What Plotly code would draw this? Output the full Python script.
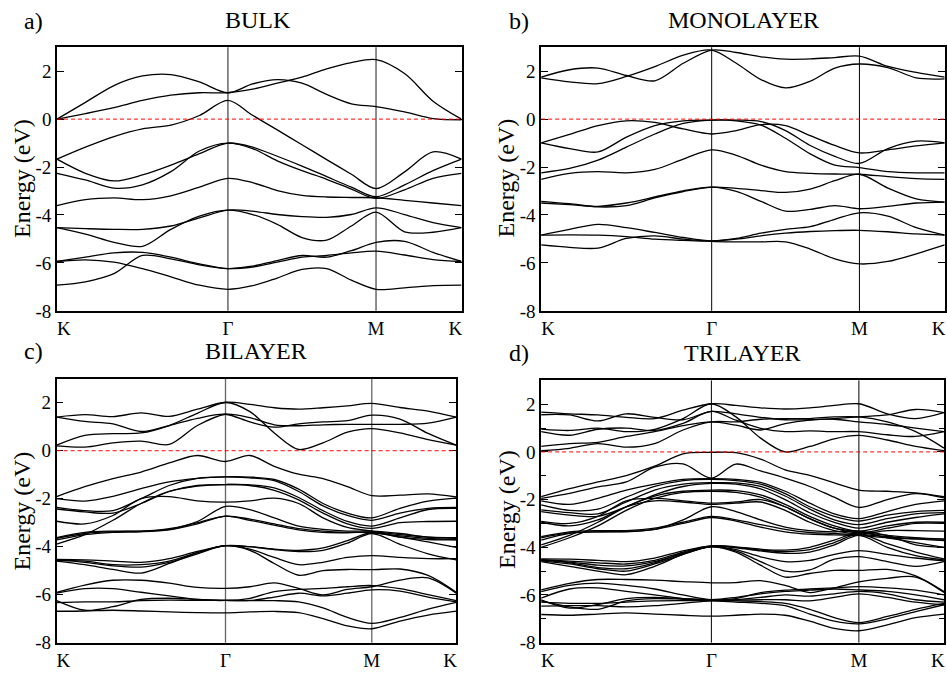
import plotly.graph_objects as go

# ---------------- data ----------------
# k-path coordinate (K -> Gamma -> M -> K), normalised path length
k_path = [0.0, 0.0704, 0.1409, 0.2113, 0.2817, 0.3522, 0.4226, 0.4836, 0.5446,
          0.6057, 0.6667, 0.7277, 0.7887, 0.8592, 0.9296, 1.0]
k_gamma = 0.4226
k_m = 0.7887
xtick_pos = [0.017, 0.4226, 0.7887, 0.985]
xtick_text = ["K", "Γ", "M", "K"]
ytick_vals = [-8, -6, -4, -2, 0, 2]
ytick_text = ["-8", "-6", "-4", "-2", "0", "2"]

# a) BULK
a1 = [0, 0.23, 0.48, 0.78, 1.0, 1.1, 1.1, 1.25, 1.5, 1.75, 2.1, 2.36, 2.48, 1.9, 0.75, 0]
a2 = [0, 0.7, 1.4, 1.8, 1.86, 1.55, 1.1, 1.47, 1.65, 1.5, 1.03, 0.64, 0.52, 0.3, 0.02, -0.03]
a3 = [-1.67, -1.17, -0.73, -0.41, -0.25, 0.15, 0.78, 0.16, -0.45, -1.07, -1.69, -2.3, -2.9, -2.2, -1.37, -1.67]
a4 = [-1.67, -2.26, -2.58, -2.33, -1.92, -1.44, -1.0, -1.17, -1.55, -1.96, -2.4, -2.84, -3.24, -2.74, -2.15, -1.67]
a5 = [-2.26, -2.54, -2.88, -2.74, -2.19, -1.33, -1.0, -1.23, -1.74, -2.15, -2.51, -2.92, -3.31, -2.95, -2.47, -2.26]
a6 = [-3.61, -3.36, -3.29, -3.36, -3.2, -2.84, -2.47, -2.65, -2.98, -3.18, -3.25, -3.27, -3.28, -3.39, -3.5, -3.61]
a7 = [-4.53, -4.57, -4.6, -4.6, -4.46, -4.12, -3.8, -3.84, -3.98, -4.07, -4.1, -3.98, -3.7, -3.98, -4.32, -4.53]
a8 = [-4.53, -4.8, -5.14, -5.31, -4.6, -4.05, -3.8, -3.98, -4.39, -4.94, -5.05, -4.46, -3.88, -4.7, -4.72, -4.53]
a9 = [-5.94, -5.76, -5.58, -5.56, -5.76, -6.04, -6.24, -6.13, -5.9, -5.69, -5.76, -5.49, -5.14, -5.1, -5.56, -5.94]
a10 = [-6.93, -6.79, -6.45, -5.69, -5.83, -6.08, -6.24, -6.17, -5.97, -5.76, -5.69, -5.58, -5.51, -5.67, -5.86, -5.94]
a11 = [-5.94, -5.87, -5.97, -6.24, -6.58, -6.93, -7.1, -6.95, -6.63, -6.27, -6.24, -6.72, -7.1, -7.04, -6.95, -6.93]

# b) MONOLAYER
b1 = [1.75, 2.06, 2.13, 1.82, 1.6, 2.33, 2.88, 2.78, 2.6, 2.5, 2.51, 2.57, 2.63, 2.2, 1.95, 1.75]
b2 = [1.72, 1.55, 1.48, 1.78, 2.19, 2.67, 2.88, 2.33, 1.65, 1.3, 1.58, 2.13, 2.3, 2.15, 1.72, 1.68]
b3 = [-0.99, -0.64, -0.27, -0.07, -0.14, -0.41, -0.62, -0.48, -0.23, -0.27, -0.69, -1.1, -1.41, -1.28, -1.12, -0.99]
b4 = [-0.99, -1.23, -1.37, -0.75, -0.27, -0.07, -0.04, -0.04, -0.1, -0.48, -1.1, -1.55, -1.85, -1.23, -0.92, -0.99]
b5 = [-2.24, -2.06, -1.71, -1.17, -0.62, -0.18, -0.04, -0.07, -0.25, -0.8, -1.45, -1.92, -2.02, -2.19, -2.24, -2.24]
b6 = [-2.51, -2.26, -2.19, -2.24, -2.1, -1.67, -1.28, -1.51, -1.92, -2.19, -2.26, -2.29, -2.3, -2.4, -2.48, -2.51]
b7 = [-3.43, -3.53, -3.66, -3.61, -3.29, -3.02, -2.84, -2.89, -2.98, -3.06, -2.92, -2.57, -2.3, -2.88, -3.33, -3.46]
b8 = [-3.5, -3.57, -3.64, -3.5, -3.25, -2.99, -2.84, -3.02, -3.43, -3.84, -3.77, -3.61, -3.74, -3.64, -3.5, -3.46]
b9 = [-4.84, -4.6, -4.39, -4.53, -4.73, -4.94, -5.08, -4.98, -4.76, -4.6, -4.49, -4.18, -3.91, -4.05, -4.53, -4.84]
b10 = [-4.84, -4.83, -4.84, -4.9, -5.01, -5.06, -5.09, -5.01, -4.87, -4.76, -4.69, -4.65, -4.64, -4.7, -4.79, -4.84]
b11 = [-5.25, -5.35, -5.38, -4.98, -4.87, -5.01, -5.1, -5.12, -5.12, -5.12, -5.42, -5.83, -6.04, -5.94, -5.62, -5.25]

# c) BILAYER
c1 = [1.4, 1.5, 1.42, 1.58, 1.43, 1.73, 2.02, 1.93, 1.79, 1.73, 1.79, 1.87, 1.97, 1.8, 1.65, 1.4]
c2 = [1.4, 1.22, 1.12, 0.8, 1.05, 1.35, 1.52, 1.2, 0.98, 1.12, 1.2, 1.25, 1.48, 1.32, 0.72, 0.23]
c3 = [0.23, 0.64, 0.71, 0.74, 1.05, 1.56, 2.01, 1.63, 0.74, 0.05, 0.33, 0.77, 0.92, 0.74, 0.46, 0.23]
c4 = [0.2, 0.15, 0.33, 0.4, 0.26, 1.05, 1.52, 1.38, 1.08, 1.04, 1.08, 1.1, 1.1, 1.1, 1.15, 1.4]
c5 = [-1.91, -1.5, -1.16, -0.89, -0.51, -0.2, -0.45, -0.2, -0.65, -0.98, -1.16, -1.5, -1.87, -1.85, -1.8, -1.93]
c6 = [-2.0, -2.1, -1.9, -1.58, -1.3, -1.15, -1.09, -1.1, -1.2, -1.6, -2.2, -2.6, -2.8, -2.4, -2.1, -1.98]
c7 = [-2.36, -2.5, -2.5, -2.0, -1.45, -1.15, -1.09, -1.13, -1.25, -1.7, -2.3, -2.7, -2.9, -2.6, -2.4, -2.36]
c8 = [-2.43, -2.55, -2.6, -2.2, -1.7, -1.45, -1.41, -1.42, -1.55, -1.95, -2.5, -2.95, -3.14, -2.8, -2.45, -2.4]
c9 = [-3.89, -3.5, -2.9, -2.2, -1.7, -1.48, -1.41, -1.45, -1.65, -2.05, -2.6, -3.05, -3.24, -3.0, -2.95, -2.94]
c10 = [-2.94, -3.05, -2.7, -2.0, -1.91, -2.09, -2.14, -2.09, -1.98, -2.2, -2.8, -3.2, -3.35, -3.5, -3.6, -3.62]
c11 = [-3.62, -3.4, -3.35, -3.35, -3.25, -2.95, -2.32, -2.46, -2.8, -3.14, -3.28, -3.35, -3.35, -3.45, -3.6, -3.65]
c12 = [-3.72, -3.5, -3.4, -3.38, -3.3, -3.05, -2.73, -2.9, -3.1, -3.3, -3.4, -3.42, -3.4, -3.6, -3.7, -3.72]
c13 = [-3.65, -3.45, -3.38, -3.35, -3.28, -3.0, -2.73, -2.85, -3.05, -3.25, -3.35, -3.4, -3.42, -3.55, -3.65, -3.7]
c14 = [-4.53, -4.55, -4.6, -4.65, -4.5, -4.2, -3.96, -4.0, -4.1, -4.15, -4.05, -3.75, -3.4, -3.6, -3.8, -4.03]
c15 = [-4.57, -4.6, -4.75, -4.75, -4.6, -4.25, -3.96, -4.0, -4.12, -4.2, -4.15, -3.85, -3.45, -3.9, -4.3, -4.55]
c16 = [-4.6, -4.75, -4.95, -5.1, -4.7, -4.25, -3.96, -4.1, -4.45, -4.75, -4.65, -4.45, -4.37, -4.45, -4.5, -4.5]
c17 = [-4.55, -4.65, -4.8, -4.85, -4.65, -4.3, -3.96, -4.15, -4.7, -5.19, -5.0, -4.95, -4.96, -4.93, -5.2, -5.9]
c18 = [-5.9, -5.6, -5.4, -5.4, -5.52, -5.7, -5.74, -5.67, -5.51, -5.74, -6.01, -5.78, -5.67, -5.39, -5.3, -5.94]
c19 = [-5.94, -5.75, -5.75, -5.9, -6.05, -6.2, -6.24, -6.15, -5.87, -5.78, -5.74, -5.67, -5.62, -5.75, -6.0, -6.25]
c20 = [-6.25, -6.65, -6.5, -6.2, -6.15, -6.2, -6.24, -6.24, -6.1, -5.94, -6.05, -5.94, -5.8, -5.85, -6.1, -6.3]
c21 = [-6.33, -6.3, -6.3, -6.25, -6.23, -6.24, -6.24, -6.25, -6.25, -6.3, -6.55, -6.95, -7.2, -6.95, -6.6, -6.32]
c22 = [-6.69, -6.68, -6.65, -6.68, -6.72, -6.75, -6.76, -6.72, -6.7, -6.75, -7.0, -7.3, -7.42, -7.1, -6.85, -6.69]

# d) TRILAYER
d1 = [1.67, 1.6, 1.55, 1.45, 1.4, 1.75, 2.02, 1.95, 1.85, 1.8, 1.85, 1.95, 2.02, 1.6, 1.4, 1.65]
d2 = [1.56, 1.55, 1.3, 1.6, 1.45, 1.35, 1.7, 1.6, 1.45, 1.35, 1.35, 1.4, 1.47, 1.55, 1.78, 1.65]
d3 = [0.96, 0.9, 1.0, 0.85, 0.95, 1.4, 2.02, 1.47, 0.58, 0.0, 0.23, 0.55, 0.69, 0.5, 0.23, 0.05]
d4 = [0.85, 0.7, 0.95, 1.0, 0.9, 1.2, 1.7, 1.33, 0.99, 0.85, 0.88, 0.85, 0.85, 0.72, 0.65, 0.85]
d5 = [0.23, 0.35, 0.4, 0.65, 0.85, 1.1, 1.26, 1.12, 0.92, 1.19, 1.33, 1.37, 1.26, 1.15, 1.0, 0.85]
d6 = [0.05, 0.15, 0.35, 0.2, 0.35, 0.92, 1.26, 1.26, 1.37, 1.4, 1.4, 1.47, 1.47, 1.26, 0.85, 0.16]
d7 = [-1.88, -1.54, -1.26, -0.99, -0.6, -0.08, -0.02, -0.03, -0.3, -0.75, -0.98, -1.3, -1.6, -1.65, -1.72, -1.88]
d8 = [-1.95, -1.74, -1.47, -1.26, -0.64, -0.5, -1.1, -0.51, -0.8, -1.1, -1.45, -1.9, -2.33, -2.0, -1.75, -1.93]
d9 = [-2.05, -2.2, -1.95, -1.6, -1.35, -1.15, -1.12, -1.15, -1.28, -1.65, -2.15, -2.6, -2.8, -2.5, -2.2, -2.05]
d10 = [-2.22, -2.45, -2.4, -1.9, -1.45, -1.2, -1.15, -1.2, -1.35, -1.75, -2.3, -2.7, -2.9, -2.65, -2.5, -2.45]
d11 = [-2.43, -2.55, -2.6, -2.1, -1.6, -1.35, -1.29, -1.3, -1.45, -1.85, -2.4, -2.85, -3.05, -2.8, -2.6, -2.55]
d12 = [-2.5, -2.65, -2.7, -2.3, -1.8, -1.45, -1.32, -1.35, -1.55, -2.0, -2.55, -2.95, -3.2, -2.95, -2.75, -2.6]
d13 = [-3.9, -3.5, -2.95, -2.3, -1.85, -1.65, -1.6, -1.62, -1.8, -2.2, -2.7, -3.1, -3.32, -3.1, -2.95, -2.95]
d14 = [-4.0, -3.6, -3.1, -2.45, -1.95, -1.7, -1.65, -1.7, -1.9, -2.3, -2.8, -3.2, -3.4, -3.2, -3.0, -3.0]
d15 = [-2.91, -3.0, -2.7, -2.05, -1.95, -2.05, -2.15, -2.1, -2.0, -2.3, -2.8, -3.2, -3.35, -3.5, -3.6, -3.66]
d16 = [-2.95, -3.1, -2.85, -2.3, -2.05, -2.1, -2.2, -2.15, -2.1, -2.45, -2.95, -3.3, -3.45, -3.55, -3.65, -3.72]
d17 = [-3.55, -3.35, -3.3, -3.3, -3.2, -2.95, -2.7, -2.85, -3.05, -3.25, -3.38, -3.42, -3.46, -3.3, -3.3, -3.32]
d18 = [-3.6, -3.4, -3.35, -3.35, -3.25, -3.0, -2.75, -2.9, -3.15, -3.35, -3.45, -3.48, -3.5, -3.6, -3.65, -3.66]
d19 = [-3.7, -3.42, -3.35, -3.33, -3.25, -2.85, -2.3, -2.5, -2.85, -3.15, -3.3, -3.35, -3.32, -3.5, -3.9, -4.0]
d20 = [-4.49, -4.5, -4.55, -4.6, -4.45, -4.15, -3.94, -3.98, -4.08, -4.12, -4.0, -3.7, -3.38, -3.6, -3.8, -4.0]
d21 = [-4.52, -4.58, -4.65, -4.7, -4.55, -4.2, -3.94, -4.0, -4.12, -4.18, -4.1, -3.8, -3.45, -3.85, -4.2, -4.49]
d22 = [-4.55, -4.62, -4.75, -4.78, -4.6, -4.25, -3.96, -4.02, -4.15, -4.25, -4.2, -3.9, -3.5, -4.0, -4.35, -4.53]
d23 = [-4.57, -4.7, -4.9, -5.0, -4.7, -4.3, -3.96, -4.1, -4.4, -4.6, -4.55, -4.3, -4.14, -4.3, -4.45, -4.57]
d24 = [-4.6, -4.8, -5.0, -5.15, -4.8, -4.3, -3.98, -4.15, -4.6, -5.0, -4.95, -4.5, -4.39, -4.6, -4.8, -4.6]
d25 = [-4.53, -4.65, -4.85, -4.9, -4.65, -4.25, -3.98, -4.2, -4.75, -5.25, -5.1, -4.97, -4.97, -4.93, -5.2, -5.86]
d26 = [-5.79, -5.51, -5.35, -5.35, -5.38, -5.44, -5.49, -5.48, -5.4, -5.6, -5.9, -5.7, -5.45, -5.3, -5.25, -5.9]
d27 = [-5.86, -5.6, -5.5, -5.6, -5.75, -6.0, -6.2, -6.15, -5.9, -5.8, -5.75, -5.7, -5.65, -5.7, -5.8, -6.0]
d28 = [-6.13, -5.75, -5.7, -5.85, -6.0, -6.15, -6.2, -6.1, -5.95, -5.85, -5.8, -5.75, -5.79, -5.85, -6.0, -6.2]
d29 = [-6.2, -6.55, -6.4, -6.15, -6.1, -6.15, -6.2, -6.2, -6.1, -6.0, -6.05, -5.95, -5.85, -5.95, -6.2, -6.3]
d30 = [-6.25, -6.5, -6.6, -6.25, -6.15, -6.18, -6.22, -6.22, -6.2, -6.2, -6.25, -6.1, -5.95, -6.1, -6.3, -6.41]
d31 = [-6.3, -6.35, -6.35, -6.3, -6.25, -6.24, -6.24, -6.25, -6.28, -6.35, -6.6, -6.95, -7.16, -6.9, -6.6, -6.35]
d32 = [-6.47, -6.45, -6.45, -6.5, -6.45, -6.35, -6.25, -6.3, -6.35, -6.45, -6.8, -7.1, -7.21, -7.0, -6.7, -6.41]
d33 = [-6.82, -6.85, -6.8, -6.75, -6.8, -6.85, -6.89, -6.85, -6.8, -6.85, -7.1, -7.4, -7.5, -7.25, -6.95, -6.8]

bulk_bands = [a1, a2, a3, a4, a5, a6, a7, a8, a9, a10, a11]
mono_bands = [b1, b2, b3, b4, b5, b6, b7, b8, b9, b10, b11]
bi_bands = [c1, c2, c3, c4, c5, c6, c7, c8, c9, c10, c11, c12, c13, c14, c15, c16,
            c17, c18, c19, c20, c21, c22]
tri_bands = [d1, d2, d3, d4, d5, d6, d7, d8, d9, d10, d11, d12, d13, d14, d15, d16,
             d17, d18, d19, d20, d21, d22, d23, d24, d25, d26, d27, d28, d29, d30,
             d31, d32, d33]

titles = ["BULK", "MONOLAYER", "BILAYER", "TRILAYER"]
letters = ["a)", "b)", "c)", "d)"]

# ---------------- layout geometry (pixels) ----------------
W, H = 947, 675
FONT = "Liberation Serif"
# (left, right, top, bottom) of each plot frame
frames = [(57, 462, 48, 316), (541.7, 945.7, 48, 316),
          (56.7, 456.7, 385, 653.3), (541.7, 945, 386.7, 653.3)]
title_pos = [(258, 20), (744, 20), (256, 357), (743, 359)]
letter_pos = [(34, 21), (520, 21), (34, 357), (520, 359)]
ylabel_pos = [(22, 181), (507, 181), (22, 519), (507, 518)]
vline_style = [("#666666", 1.5), ("black", 1.0), ("#666666", 1.3), ("black", 1.0)]
minor_on = [False, False, False, True]


def px(x):
    return x / W


def py(y):
    return 1 - y / H


fig = go.Figure()
all_bands = [bulk_bands, mono_bands, bi_bands, tri_bands]
shapes = []
annotations = []
layout_axes = {}

for i, bands in enumerate(all_bands):
    n = "" if i == 0 else str(i + 1)
    xref, yref = "x" + n, "y" + n
    for band in bands:
        fig.add_trace(go.Scatter(
            x=k_path, y=band, mode="lines",
            line=dict(color="black", width=1.3, shape="spline", smoothing=0.9),
            xaxis=xref, yaxis=yref, showlegend=False, hoverinfo="skip"))
    l, r, t, b = frames[i]
    xa = dict(domain=[px(l), px(r)], range=[0, 1], anchor=yref,
              tickvals=xtick_pos, ticktext=xtick_text, ticks="",
              showline=True, linecolor="black", linewidth=1.5, mirror=True,
              showgrid=False, zeroline=False,
              tickfont=dict(family=FONT, size=19, color="black"))
    ya = dict(domain=[py(b), py(t)], range=[-8, 3], anchor=xref,
              tickvals=ytick_vals, ticktext=ytick_text, ticks="inside",
              ticklen=7, tickwidth=1, tickcolor="black",
              showline=True, linecolor="black", linewidth=1.5, mirror="ticks",
              showgrid=False, zeroline=False,
              tickfont=dict(family=FONT, size=19, color="black"))
    if minor_on[i]:
        ya["minor"] = dict(tickvals=[-7, -5, -3, -1, 1], ticks="inside",
                           ticklen=5, tickcolor="black", showgrid=False)
    layout_axes["xaxis" + n] = xa
    layout_axes["yaxis" + n] = ya

    vc, vw = vline_style[i]
    for kx in (k_gamma, k_m):
        shapes.append(dict(type="line", xref=xref, yref=yref + " domain",
                           x0=kx, x1=kx, y0=0, y1=1, layer="below",
                           line=dict(color=vc, width=vw)))
    shapes.append(dict(type="line", xref=xref + " domain", yref=yref,
                       x0=0, x1=1, y0=0, y1=0, layer="above",
                       line=dict(color="red", width=1, dash="4px,3px")))

    tx, ty = title_pos[i]
    annotations.append(dict(text=titles[i], x=px(tx), y=py(ty), xref="paper",
                            yref="paper", showarrow=False, xanchor="center",
                            yanchor="middle",
                            font=dict(family=FONT, size=24, color="black")))
    lx, ly = letter_pos[i]
    annotations.append(dict(text=letters[i], x=px(lx), y=py(ly), xref="paper",
                            yref="paper", showarrow=False, xanchor="center",
                            yanchor="middle",
                            font=dict(family=FONT, size=24, color="black")))
    ex, ey = ylabel_pos[i]
    annotations.append(dict(text="Energy (eV)", x=px(ex), y=py(ey), xref="paper",
                            yref="paper", showarrow=False, xanchor="center",
                            yanchor="middle", textangle=-90,
                            font=dict(family=FONT, size=24, color="black")))

fig.update_layout(
    width=W, height=H, autosize=False,
    margin=dict(l=0, r=0, t=0, b=0),
    paper_bgcolor="white", plot_bgcolor="white",
    font=dict(family=FONT, color="black"),
    shapes=shapes, annotations=annotations,
    **layout_axes)

fig.write_html("out.html")
